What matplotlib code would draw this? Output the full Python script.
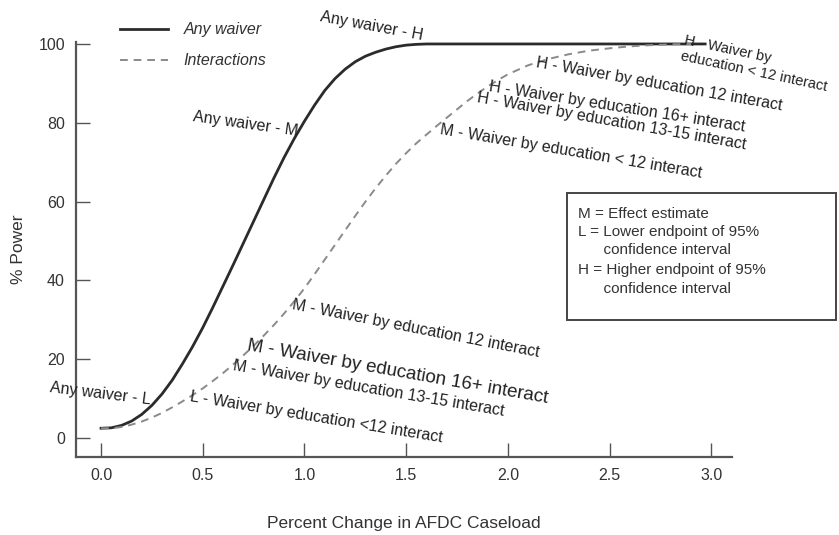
import matplotlib
matplotlib.use("Agg")
from matplotlib import pyplot as plt
from matplotlib.patches import Rectangle

plt.rcParams['font.family'] = ['Liberation Sans', 'DejaVu Sans']

# curves
any_x = [0.0, 0.05, 0.1, 0.15, 0.2, 0.25, 0.3, 0.35, 0.4, 0.45, 0.5, 0.55, 0.6, 0.65, 0.7,
         0.75, 0.8, 0.85, 0.9, 0.95, 1.0, 1.05, 1.1, 1.15, 1.2, 1.25, 1.3, 1.35, 1.4, 1.45,
         1.5, 1.55, 1.6, 2.97]
any_y = [2.5, 2.6, 3.2, 4.3, 6, 8.3, 11.2, 14.7, 18.8, 23.2, 28, 33.2, 38.6, 44, 49.5,
         55, 60.5, 66, 71.2, 76, 80.4, 84.5, 88.2, 91.2, 93.6, 95.5, 96.9, 97.9, 98.7, 99.3,
         99.7, 99.9, 100, 100]

int_x = [0.0, 0.05, 0.1, 0.15, 0.2, 0.25, 0.3, 0.35, 0.4, 0.45, 0.5, 0.55, 0.6, 0.65, 0.7,
         0.75, 0.8, 0.85, 0.9, 0.95, 1.0, 1.05, 1.1, 1.15, 1.2, 1.25, 1.3, 1.35, 1.4, 1.45,
         1.5, 1.55, 1.6, 1.65, 1.7, 1.75, 1.8, 1.85, 1.9, 1.95, 2.0, 2.1, 2.2, 2.3, 2.4,
         2.5, 2.6, 2.7, 2.8, 2.9]
int_y = [2.5, 2.5, 2.8, 3.4, 4.2, 5.2, 6.4, 7.8, 9.3, 10.9, 12.6, 14.5, 16.5, 18.7, 21,
         23.4, 26, 28.7, 31.6, 34.7, 38, 41.6, 45.3, 49, 52.7, 56.4, 60, 63.4, 66.6, 69.6,
         72.3, 74.8, 77, 79.2, 81.3, 83.4, 85.5, 87.4, 89.2, 90.8, 92.3, 94.6, 96.2, 97.4, 98.3,
         98.9, 99.4, 99.7, 99.9, 100]

x_ticks = [0.0, 0.5, 1.0, 1.5, 2.0, 2.5, 3.0]
y_ticks = [0, 20, 40, 60, 80, 100]

# point labels: text, x, y, angle, size
labels = [
    ("Any waiver - H", 1.077, 107.0, -10.5, 11.5),
    ("Any waiver - M", 0.452, 81.5, -8, 11.5),
    ("Any waiver - L", -0.25, 12.8, -7, 11.5),
    ("L - Waiver by education <12 interact", 0.44, 10.4, -9.3, 11.5),
    ("M - Waiver by education 13-15 interact", 0.65, 18.3, -9.6, 11.5),
    ("M - Waiver by education 16+ interact", 0.72, 23.4, -10, 13.5),
    ("M - Waiver by education 12 interact", 0.94, 33.8, -11, 11.5),
    ("M - Waiver by education < 12 interact", 1.67, 78.2, -9.5, 11.5),
    ("H - Waiver by education 13-15 interact", 1.85, 86.3, -10, 11.5),
    ("H - Waiver by education 16+ interact", 1.91, 89.3, -9, 11.5),
    ("H - Waiver by education 12 interact", 2.14, 95.2, -10, 11.5),
    ("H - Waiver by\neducation < 12 interact", 2.86, 99.0, -12, 10.5),
]

key_lines = [
    "M = Effect estimate",
    "L = Lower endpoint of 95%",
    "      confidence interval",
    "H = Higher endpoint of 95%",
    "      confidence interval",
]

fig = plt.figure(figsize=(8.39, 5.35), dpi=100)
ax = fig.add_axes([0.0906, 0.1458, 0.7814, 0.7757])

ax.plot(any_x, any_y, color='#2b2b2b', lw=2.0, label='Any waiver')
ax.plot(int_x, int_y, color='#8a8a8a', lw=1.4, dashes=(4, 3), label='Interactions')

ax.set_xlim(-0.123, 3.10)
ax.set_ylim(-4.8, 100.5)
ax.set_xticks(x_ticks)
ax.set_xticklabels(["%.1f" % v for v in x_ticks])
ax.set_yticks(y_ticks)
ax.tick_params(direction='in', length=10, width=1.0, color='#555555',
               labelsize=11.5, labelcolor='#333333', pad=8)
for s in ['top', 'right']:
    ax.spines[s].set_visible(False)
for s in ['left', 'bottom']:
    ax.spines[s].set_color('#555555')
    ax.spines[s].set_linewidth(1.6)

ax.set_xlabel("Percent Change in AFDC Caseload", fontsize=12.5, color='#333333', labelpad=24)
ax.set_ylabel("% Power", fontsize=12.5, color='#333333', labelpad=9)

for txt, x, y, ang, sz in labels:
    ax.text(x, y, txt, rotation=ang, rotation_mode='anchor', ha='left', va='center',
            fontsize=sz, color='#222222', multialignment='left', clip_on=False)

leg = ax.legend(loc='upper left', bbox_to_anchor=(0.1264, 0.985), bbox_transform=fig.transFigure,
                frameon=False, handlelength=3.0, labelspacing=1.0, handletextpad=0.94,
                prop={'style': 'italic', 'size': 11.5})
for t in leg.get_texts():
    t.set_color('#333333')

# key box
fig.patches.append(Rectangle((567 / 839, 1 - 320 / 535), 269 / 839, 127 / 535,
                             transform=fig.transFigure, fill=False,
                             edgecolor='#444444', lw=1.4))
key_y = [214, 232, 250, 270, 289]
for line, py in zip(key_lines, key_y):
    fig.text(578 / 839, 1 - py / 535, line, fontsize=11, color='#333333', va='center')

fig.savefig("out.png", dpi=100)
